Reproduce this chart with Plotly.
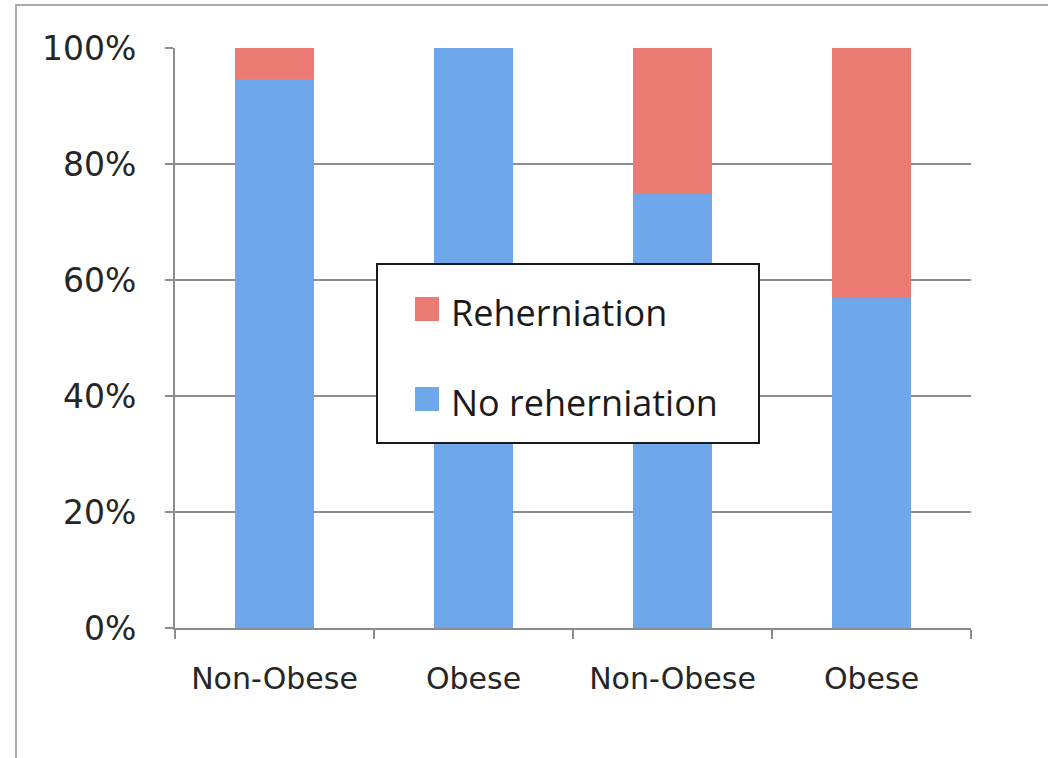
import plotly.graph_objects as go

# Reherniation outcome by group, as shares of each group (stacked to 100%)
categories = ["Non-Obese", "Obese", "Non-Obese", "Obese"]
no_reherniation = [0.947, 1.0, 0.75, 0.571]
reherniation = [0.053, 0.0, 0.25, 0.429]

series_names = ["Reherniation", "No reherniation"]
series_colors = ["#eb7a73", "#6ea8ea"]

x_pos = list(range(len(categories)))

fig = go.Figure()
fig.add_trace(go.Bar(x=x_pos, y=no_reherniation, name=series_names[1],
                     marker=dict(color=series_colors[1], line=dict(width=0)),
                     width=0.4, showlegend=False))
fig.add_trace(go.Bar(x=x_pos, y=reherniation, name=series_names[0],
                     marker=dict(color=series_colors[0], line=dict(width=0)),
                     width=0.4, showlegend=False))

# Plot area in pixels: x 175..971, y 48..628
L, R, T, B = 175, 971, 48, 628
W, H = 1048, 758


def px_x(v):
    return (v - L) / (R - L)


def px_y(v):
    return (B - v) / (B - T)


shapes = [
    # outer chart frame
    dict(type="rect", xref="paper", yref="paper",
         x0=px_x(16), x1=px_x(1052), y0=px_y(5), y1=px_y(762),
         line=dict(color="#acacac", width=2), fillcolor="rgba(0,0,0,0)",
         layer="below"),
    # legend box
    dict(type="rect", xref="paper", yref="paper",
         x0=px_x(377), x1=px_x(759), y0=px_y(264), y1=px_y(443),
         line=dict(color="#1a1a1a", width=2), fillcolor="white", layer="above"),
]
annotations = []
legend_rows = [309, 399]
for name, color, row in zip(series_names, series_colors, legend_rows):
    shapes.append(dict(type="rect", xref="paper", yref="paper",
                       x0=px_x(415), x1=px_x(439), y0=px_y(row - 12), y1=px_y(row + 12),
                       line=dict(width=0), fillcolor=color, layer="above"))
    annotations.append(dict(text=name, xref="paper", yref="paper",
                            x=px_x(449), y=px_y(row + 3), xanchor="left", yanchor="middle",
                            showarrow=False,
                            font=dict(family="Open Sans", size=36, color="#1a1a1a")))

fig.update_layout(
    width=W, height=H,
    margin=dict(l=L, r=W - R, t=T, b=H - B),
    paper_bgcolor="white", plot_bgcolor="white",
    barmode="stack", bargap=0,
    shapes=shapes, annotations=annotations,
    showlegend=False,
    font=dict(family="DejaVu Sans", color="#262626"),
)
fig.update_xaxes(
    range=[-0.5, len(categories) - 0.5],
    tickvals=x_pos, ticktext=categories, ticks="",
    tickfont=dict(size=30, family="DejaVu Sans", color="#262626"),
    ticklabelstandoff=23,
    showline=True, linecolor="#8c8c8c", linewidth=2,
    showgrid=False, zeroline=False,
    minor=dict(tickvals=[i - 0.5 for i in range(len(categories) + 1)],
               ticks="outside", ticklen=9, tickcolor="#8c8c8c", tickwidth=2),
)
fig.update_yaxes(
    range=[0, 1], tickvals=[0, 0.2, 0.4, 0.6, 0.8, 1.0], tickformat=".0%",
    ticks="outside", ticklen=8, tickcolor="#8c8c8c", tickwidth=2,
    tickfont=dict(size=33, family="DejaVu Sans", color="#262626"),
    ticklabelstandoff=22,
    showline=True, linecolor="#8c8c8c", linewidth=2,
    showgrid=True, gridcolor="#8c8c8c", gridwidth=1.5, zeroline=False,
)

fig.write_html("out.html")
